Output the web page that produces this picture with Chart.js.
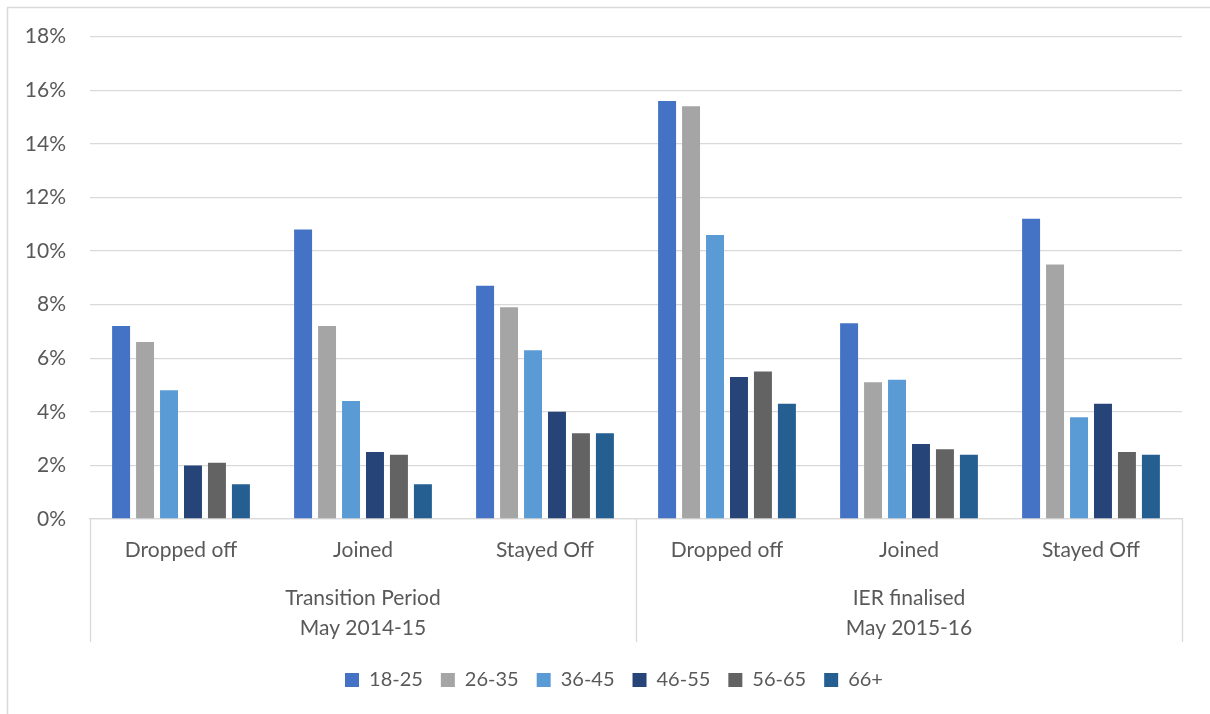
<!DOCTYPE html>
<html><head><meta charset="utf-8">
<script src="https://cdn.jsdelivr.net/npm/chart.js@4.4.0/dist/chart.umd.min.js"></script>
<style>html,body{margin:0;padding:0;background:#fff;} canvas{display:block;}</style>
</head><body>
<canvas id="c" width="1210" height="714"></canvas>
<script>
const categories = ["Dropped off", "Joined", "Stayed Off", "Dropped off", "Joined", "Stayed Off"];
const groupLabels = [["Transition Period", "May 2014-15"], ["IER finalised", "May 2015-16"]];
const seriesNames = ["18-25", "26-35", "36-45", "46-55", "56-65", "66+"];
const age18to25 = [7.2, 10.8, 8.7, 15.6, 7.3, 11.2];
const age26to35 = [6.6, 7.2, 7.9, 15.4, 5.1, 9.5];
const age36to45 = [4.8, 4.4, 6.3, 10.6, 5.2, 3.8];
const age46to55 = [2.0, 2.5, 4.0, 5.3, 2.8, 4.3];
const age56to65 = [2.1, 2.4, 3.2, 5.5, 2.6, 2.5];
const age66plus = [1.3, 1.3, 3.2, 4.3, 2.4, 2.4];
const yMin = 0, yMax = 18, yStep = 2;

const seriesValues = [age18to25, age26to35, age36to45, age46to55, age56to65, age66plus];
const seriesColors = ["#4472C4", "#A5A5A5", "#5B9BD5", "#264478", "#636363", "#255E91"];
const FONT = "Lato, 'Noto Sans', sans-serif";
const TXT = "#595959";
const LINE = "#d9d9d9";

const frame = {
  id: 'frame',
  beforeDraw(chart) {
    const ctx = chart.ctx;
    ctx.save();
    ctx.fillStyle = '#fff';
    ctx.fillRect(0, 0, chart.width, chart.height);
    ctx.strokeStyle = LINE;
    ctx.lineWidth = 1.5;
    ctx.beginPath();
    ctx.moveTo(7.5, chart.height); ctx.lineTo(7.5, 7.5); ctx.lineTo(chart.width, 7.5);
    ctx.stroke();
    ctx.restore();
  }
};
const legendShift = {
  id: 'legendShift',
  afterLayout(chart) {
    const lg = chart.legend;
    if (lg) { lg.left += 23; lg.right += 23; }
  }
};
const dividers = {
  id: 'dividers',
  afterDraw(chart) {
    const x = chart.scales.x, x2 = chart.scales.x2;
    const ctx = chart.ctx;
    const mid = (x.getPixelForValue(2) + x.getPixelForValue(3)) / 2;
    ctx.save();
    ctx.strokeStyle = LINE;
    ctx.lineWidth = 1.3;
    [x.left, mid, x.right].forEach(px => {
      ctx.beginPath();
      ctx.moveTo(Math.round(px) + 0.5, x.top);
      ctx.lineTo(Math.round(px) + 0.5, x2.top + 63);
      ctx.stroke();
    });
    ctx.restore();
  }
};

new Chart(document.getElementById('c'), {
  type: 'bar',
  data: {
    labels: categories,
    datasets: seriesNames.map((n, i) => ({
      label: n,
      data: seriesValues[i],
      backgroundColor: seriesColors[i],
      borderWidth: 0,
      categoryPercentage: 0.79,
      barPercentage: 0.75
    }))
  },
  options: {
    responsive: false,
    animation: false,
    layout: { padding: { left: 0, right: 28, top: 36, bottom: 14 } },
    plugins: {
      tooltip: { enabled: false },
      legend: {
        position: 'bottom',
        labels: {
          boxWidth: 14, boxHeight: 14, padding: 18,
          color: TXT, font: { family: FONT, size: 20 }
        }
      }
    },
    scales: {
      x: {
        type: 'category',
        position: 'bottom',
        grid: { display: false, drawTicks: false },
        border: { display: true, color: LINE, width: 1.3 },
        ticks: { color: TXT, font: { family: FONT, size: 21 }, padding: 19, maxRotation: 0, autoSkip: false },
        afterFit(s) { s.height = 60; }
      },
      x2: {
        type: 'category',
        position: 'bottom',
        labels: groupLabels,
        offset: true,
        grid: { display: false, drawTicks: false },
        border: { display: false },
        ticks: { color: TXT, font: { family: FONT, size: 21, lineHeight: 1.43 }, padding: 4, maxRotation: 0, autoSkip: false },
        afterFit(s) { s.height = 73; }
      },
      y: {
        min: yMin, max: yMax,
        grid: { color: LINE, lineWidth: 1.3, drawTicks: false },
        border: { display: false },
        ticks: {
          stepSize: yStep, padding: 24, color: TXT,
          font: { family: FONT, size: 21 },
          callback: v => v + '%'
        },
        afterFit(s) { s.width = 90; }
      }
    }
  },
  plugins: [frame, legendShift, dividers]
});
</script>
</body></html>
